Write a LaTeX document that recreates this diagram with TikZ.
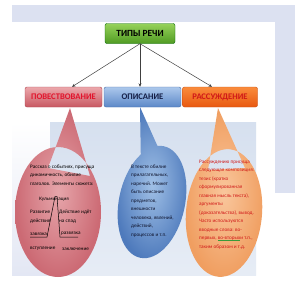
\documentclass[tikz,border=0pt]{standalone}
\usepackage{fontspec}
\setmainfont{Carlito}
\usetikzlibrary{arrows.meta}
\definecolor{lav}{HTML}{DCE1F1}
\definecolor{backblue}{HTML}{D6E0EF}
\definecolor{gulcol}{HTML}{3A9A3A}
\definecolor{redtxt}{HTML}{E2142C}
\definecolor{orgtxt}{HTML}{D01818}
\newcommand\grul[1]{\setbox0=\hbox{#1}\rlap{\color{gulcol}\vrule width\wd0 height -0.6pt depth 1.1pt}\box0}
\tikzset{
  hbox/.style={rounded corners=2pt, minimum width=#1, minimum height=20pt, inner sep=0pt,
     font=\fontsize{8.6}{9}\selectfont\bfseries},
  body/.style={inner sep=0pt, anchor=north west, align=left, font=\fontsize{5.2}{8.5}\selectfont},
  small/.style={inner sep=0pt, font=\fontsize{5.2}{6}\selectfont},
  arr/.style={draw=black!75, line width=0.5pt, -{Stealth[length=3.5pt,width=3pt]}},
  leg/.style={draw=black, line width=0.5pt}
}
\begin{document}
\begin{tikzpicture}[x=1pt,y=-1pt]
\useasboundingbox (0,0) rectangle (300,292);
% backgrounds
\fill[lav] (12,5) rectangle (295,193);
\fill[white] (12,22) rectangle (275,275);
\shade[top color=white, bottom color=lav!80] (12,122) rectangle (50,275);
\shade[top color=backblue, bottom color=backblue!60] (50,122) rectangle (256,275);

% top node
\node[hbox=70pt, draw=green!40!black, font=\fontsize{9.4}{10}\selectfont\bfseries,
      top color={rgb,255:red,150;green,210;blue,90}, bottom color={rgb,255:red,80;green,155;blue,35}]
      (tipy) at (140,33.5) {ТИПЫ РЕЧИ};

% second row
\node[hbox=77pt, top color={rgb,255:red,236;green,168;blue,172}, bottom color={rgb,255:red,200;green,88;blue,98}, draw={rgb,255:red,175;green,70;blue,80}, text=redtxt]
      (pov) at (63.5,97) {ПОВЕСТВОВАНИЕ};
\node[hbox=77pt, top color={rgb,255:red,172;green,200;blue,236}, bottom color={rgb,255:red,92;green,136;blue,200}, draw={rgb,255:red,70;green,110;blue,170}, text={rgb,255:red,20;green,30;blue,70}]
      (opi) at (142.5,97) {ОПИСАНИЕ};
\node[hbox=75pt, top color={rgb,255:red,250;green,140;blue,60}, bottom color={rgb,255:red,232;green,88;blue,16}, draw={rgb,255:red,200;green,80;blue,20}, text=orgtxt]
      (ras) at (220,97) {РАССУЖДЕНИЕ};

% connectors
\draw[arr] (tipy.south) -- ([xshift=8.5pt]pov.north);
\draw[arr] (tipy.south) -- ([xshift=-2.5pt]opi.north);
\draw[arr] (tipy.south) -- ([xshift=-8pt]ras.north);

% red bubble
\shade[inner color={rgb,255:red,230;green,165;blue,170}, outer color={rgb,255:red,204;green,106;blue,116}]
   (70,108) -- (48,168) -- (90,176) -- cycle
   (58,212) ellipse [x radius=43, y radius=65];
% blue bubble
\shade[inner color={rgb,255:red,160;green,192;blue,230}, outer color={rgb,255:red,78;green,122;blue,188}]
   (140,107) -- (166,165) -- (141,168) -- cycle
   [rotate around={-12:(152,202)}] (152,202) ellipse [x radius=33, y radius=57];
% orange bubble
\shade[inner color={rgb,255:red,249;green,198;blue,156}, outer color={rgb,255:red,240;green,158;blue,96}]
   (218,108) -- (208,170) -- (245,168) -- cycle
   [rotate around={-5:(224,213)}] (224,213) ellipse [x radius=38, y radius=64];

% red text
\node[body] (rt) at (30,164.5) {Рассказ о событиях, присуща\\динамичность, обилие\\глаголов. Элементы сюжета:};
\node[small] (kul) at (54,199.5) {Кульминация};
\node[small, anchor=west] (raz) at (30,212) {Развитие};
\node[small, anchor=west] (dei) at (30,221.5) {действия};
\node[small, anchor=west] (spa) at (59,212) {Действие идёт};
\node[small, anchor=west] (nas) at (59,221.5) {на спад};
\node[small, anchor=west] (zav) at (30,234) {завязка};
\node[small, anchor=west] (rzv) at (61,234) {развязка};
\node[small, anchor=west] (vst) at (30,249) {вступление};
\node[small, anchor=west] (zak) at (62,249) {заключение};
\draw[leg] (30,237) -- (47,237) -- (55,196.5) -- (57,196.5) -- (60,237) -- (78,237);

% blue text
\node[body, text={rgb,255:red,15;green,20;blue,45}] (bt) at (131,164.5)
 {В тексте обилие\\прилагательных,\\наречий. Может\\быть описание\\предметов,\\внешности\\человека, явлений,\\действий,\\процессов и т.п.};

% orange text
\node[body, text=orgtxt] (ot) at (199,159.5)
 {Рассуждению присуща\\следующая композиция:\\тезис (кратко\\сформулированная\\главная мысль текста),\\аргументы\\(доказательства), вывод.\\Часто используются\\вводные слова: во-\\первых, \grul{во-вторых} и т.п.,\\таким образом и т.д.};
\end{tikzpicture}
\end{document}
